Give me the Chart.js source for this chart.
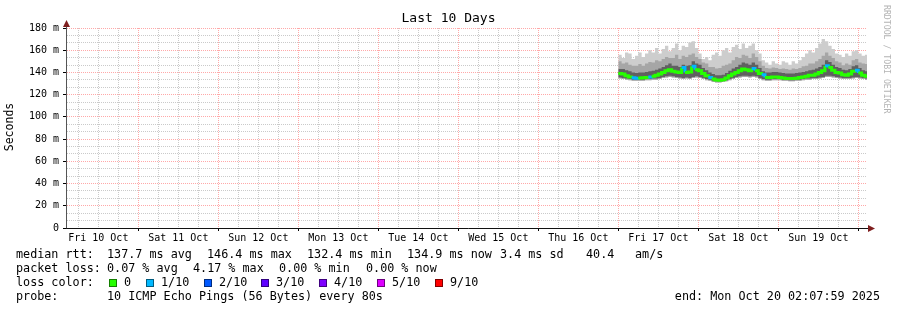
<!DOCTYPE html>
<html>
<head>
<meta charset="utf-8">
<script src="https://cdn.jsdelivr.net/npm/chart.js@4.4.1/dist/chart.umd.min.js"></script>
<style>
html, body { margin: 0; padding: 0; background: #fff; }
</style>
</head>
<body>
<canvas id="chart" width="897" height="310"></canvas>
<script>
// day labels along the time axis (placed at noon of each day)
const dayLabels = ['Fri 10 Oct', 'Sat 11 Oct', 'Sun 12 Oct', 'Mon 13 Oct', 'Tue 14 Oct',
                   'Wed 15 Oct', 'Thu 16 Oct', 'Fri 17 Oct', 'Sat 18 Oct', 'Sun 19 Oct'];
// y ticks in ms
const yTicks = [0, 20, 40, 60, 80, 100, 120, 140, 160, 180];

// hourly samples starting Fri 17 Oct 00:00 (hour 168 counted from Fri 10 Oct 00:00)
const firstHour = 168;
const medianMs = [139, 138.5, 137, 136, 135.2, 134.8, 135, 135.2, 135.5, 136,
                  136.5, 137.5, 138.5, 140, 141.5, 142.5, 141, 140.5, 140, 144.5,
                  140, 140.5, 145.5, 142.5, 141.5, 139, 137, 135.5, 134, 133.2,
                  133, 133.5, 135, 137, 138.5, 140, 141.5, 143, 142.5, 141.5,
                  143.5, 141.5, 139, 138, 135.5, 135.5, 136, 136, 135.5, 135,
                  134.5, 134.5, 134.5, 134.8, 135.5, 136, 136.5, 137.5, 137.5, 138.5,
                  140, 141.5, 146, 144.5, 142, 140, 139.5, 138, 137.5, 138.5,
                  141, 142, 139.5, 137.5, 136.5, 135];
const lossCount = [0, 0, 0, 0, 1, 1, 0, 0, 0, 1,
                   0, 0, 0, 0, 0, 0, 0, 0, 0, 1,
                   0, 0, 1, 0, 0, 0, 0, 1, 0, 0,
                   0, 0, 0, 0, 0, 0, 0, 0, 0, 0,
                   1, 0, 0, 1, 0, 0, 0, 0, 0, 0,
                   0, 0, 0, 0, 0, 0, 0, 0, 0, 0,
                   0, 0, 1, 0, 0, 0, 0, 0, 0, 0,
                   0, 1, 0, 0, 0, 0];
// smoke: lowest ping, lower inner edge, upper inner edge, upper middle edge, highest ping
const minMs = [134.5, 134, 133.5, 133, 132.5, 132.5, 132.5, 132.5, 133, 133,
               133.5, 133.5, 134, 135, 135.5, 136, 135.5, 135, 134.5, 134,
               134.5, 134, 135, 135.5, 135, 134, 133, 132.5, 131.5, 131,
               131, 131.5, 132, 133, 134, 135, 135.5, 136, 136, 135.5,
               136, 135.5, 134, 133, 132.5, 132.5, 133, 133, 133, 132.5,
               132.5, 132, 132, 132.5, 132.5, 133, 133.5, 133.5, 134, 134,
               134.5, 135, 136, 136, 135.5, 135, 134.5, 134, 134, 134,
               134.5, 135, 134.5, 134, 133.5, 133.5];
const lowMs = [135.5, 135, 134.5, 134, 133.5, 133.5, 133.5, 133.5, 134, 134,
               134.5, 134.5, 135, 136, 136.5, 137, 136.5, 136, 135.5, 135,
               135.5, 135, 136, 136.5, 136, 135, 134, 133.5, 132.5, 132,
               132, 132.5, 133, 134, 135, 136, 136.5, 137, 137, 136.5,
               137, 136.5, 135, 134, 133.5, 133.5, 134, 134, 134, 133.5,
               133.5, 133, 133, 133.5, 133.5, 134, 134.5, 134.5, 135, 135,
               135.5, 136, 137, 137, 136.5, 136, 135.5, 135, 135, 135,
               135.5, 136, 135.5, 135, 134.5, 134];
const innerMs = [143, 143, 142, 141, 140, 139.5, 140, 140, 140.5, 141,
                 141.5, 142.5, 143.5, 145, 146.5, 148, 146, 146, 145, 147,
                 146, 146.5, 150, 148, 147, 144, 142, 140, 138.5, 137.5,
                 137.5, 138, 139.5, 141.5, 143.5, 145, 147, 149, 148, 147,
                 149, 147, 144, 141, 140, 140, 140.5, 140.5, 140, 139.5,
                 139, 139, 139, 139.5, 140, 140.5, 141, 142, 142.5, 143.5,
                 145, 147, 151, 149.5, 147, 145, 144, 142.5, 142, 143,
                 145.5, 146.5, 144, 142, 141, 140];
const outerMs = [150, 148, 149, 147, 146, 146, 147.5, 146, 148, 149.5,
                 149, 151, 150, 152, 154, 153, 153, 156, 152, 155,
                 154, 156, 157, 154, 152, 149, 148, 145, 145, 143.5,
                 144, 146, 147, 148, 151, 154, 153, 156, 155, 153,
                 157, 154, 150, 146, 144, 143.5, 144.5, 144, 143, 143.5,
                 143, 142.5, 143.5, 143, 144, 145.5, 146, 148, 148, 150,
                 152, 155, 158, 155, 153, 150, 149, 146.5, 148, 147,
                 151, 152, 149, 148, 147.5, 146];
const maxMs = [156, 153, 158, 157, 152, 155, 158, 154, 157, 160,
               158, 162, 157, 161, 164, 159, 162, 166, 160, 164,
               163, 167, 168, 162, 157, 152, 154, 151, 156, 158,
               155, 160, 162, 158, 163, 165, 161, 166, 162, 164,
               166, 160, 157, 151, 149, 147, 150, 148, 147, 150,
               149, 147, 150, 148, 151, 154, 157, 160, 158, 162,
               166, 170, 168, 164, 161, 157, 156, 154, 157, 155,
               159, 160, 157, 155, 156, 154];

const lossLabels = ['0', '1/10', '2/10', '3/10', '4/10', '5/10', '9/10'];
const lossColors = ['#26ff00', '#00b8ff', '#0059ff', '#5e00ff', '#7e00ff', '#dd00ff', '#ff0000'];

const MONO = '"DejaVu Sans Mono", monospace';
const MAJOR = 'rgba(255, 110, 110, 0.6)';
const MINOR = 'rgba(150, 150, 150, 0.5)';
const CLEAR = 'rgba(0,0,0,0)';
const xStart = 2.61; // graph starts ~02:37 Fri 10 Oct
const xEnd = xStart + 240;

const pts = arr => arr.map((v, i) => ({ x: firstHour + i, y: v }));

const edge = arr => ({
    data: pts(arr),
    stepped: true,
    borderColor: CLEAR,
    borderWidth: 0,
    pointRadius: 0,
    fill: false
});
const band = (arr, target, color) => Object.assign(edge(arr), { fill: target, backgroundColor: color });

const frame = {
    id: 'frame',
    afterDraw(chart) {
        const { ctx, chartArea: a } = chart;
        const ax = a.left - 0.5, ay = a.bottom + 0.5;
        ctx.save();
        // axes
        ctx.lineWidth = 1;
        ctx.strokeStyle = '#555';
        ctx.beginPath(); ctx.moveTo(ax, ay); ctx.lineTo(ax, 24); ctx.stroke();
        ctx.strokeStyle = '#111';
        ctx.beginPath(); ctx.moveTo(ax, ay); ctx.lineTo(870, ay); ctx.stroke();
        // arrows
        ctx.fillStyle = '#7f1f1f';
        ctx.beginPath(); ctx.moveTo(ax - 3.5, 27); ctx.lineTo(ax + 3.5, 27); ctx.lineTo(ax, 20); ctx.closePath(); ctx.fill();
        ctx.beginPath(); ctx.moveTo(868, ay - 3.5); ctx.lineTo(868, ay + 3.5); ctx.lineTo(875, ay); ctx.closePath(); ctx.fill();

        // y axis title
        ctx.fillStyle = '#000';
        ctx.font = '11.5px ' + MONO;
        ctx.textAlign = 'center';
        ctx.textBaseline = 'middle';
        ctx.save();
        ctx.translate(10, 127);
        ctx.rotate(-Math.PI / 2);
        ctx.fillText('Seconds', 0, 0);
        ctx.restore();

        // watermark
        ctx.save();
        ctx.fillStyle = '#b4b4b4';
        ctx.font = '8.2px ' + MONO;
        ctx.textAlign = 'left';
        ctx.translate(886, 5);
        ctx.rotate(Math.PI / 2);
        ctx.fillText('RRDTOOL / TOBI OETIKER', 0, 0);
        ctx.restore();

        // legend lines
        ctx.font = '11.75px ' + MONO;
        ctx.textAlign = 'left';
        const rows = [
            [255, [[16, 'median rtt:'], [107, '137.7 ms avg'], [207, '146.4 ms max'], [307, '132.4 ms min'],
                   [407, '134.9 ms now'], [500, '3.4 ms sd'], [586, '40.4'], [635, 'am/s']]],
            [269, [[16, 'packet loss:'], [107, '0.07 % avg'], [193, '4.17 % max'], [279, '0.00 % min'], [366, '0.00 % now']]],
            [283, [[16, 'loss color:']]],
            [297, [[16, 'probe:'], [107, '10 ICMP Echo Pings (56 Bytes) every 80s']]]
        ];
        rows.forEach(([y, items]) => items.forEach(([x, t]) => ctx.fillText(t, x, y)));
        const swatchX = [109, 146, 204, 261, 319, 377, 435];
        lossLabels.forEach((lbl, i) => {
            const sx = swatchX[i];
            ctx.fillStyle = lossColors[i];
            ctx.fillRect(sx, 279, 8, 8);
            ctx.strokeStyle = 'rgba(0,0,0,0.5)';
            ctx.strokeRect(sx + 0.5, 279.5, 7, 7);
            ctx.fillStyle = '#000';
            ctx.fillText(lbl, sx + 15, 283);
        });
        ctx.textAlign = 'right';
        ctx.fillText('end: Mon Oct 20 02:07:59 2025', 880, 297);
        ctx.restore();
    }
};

new Chart(document.getElementById('chart'), {
    type: 'line',
    data: {
        datasets: [
            {
                label: 'median',
                data: pts(medianMs),
                stepped: true,
                borderWidth: 3,
                borderColor: lossColors[0],
                segment: { borderColor: c => lossColors[lossCount[c.p0DataIndex]] },
                pointRadius: 0,
                fill: false
            },
            edge(minMs),                  // 1
            edge(lowMs),                  // 2
            band(innerMs, 2, '#606060'),  // 3: darkest, around the median
            band(outerMs, 1, '#a6a6a6'),  // 4
            band(maxMs, 1, '#cdcdcd')     // 5: full spread
        ]
    },
    options: {
        responsive: false,
        animation: false,
        layout: { padding: 0 },
        plugins: {
            legend: { display: false },
            tooltip: { enabled: false },
            title: {
                display: true,
                text: 'Last 10 Days',
                color: '#000',
                font: { family: MONO, size: 13, weight: 'normal', lineHeight: 1.2 },
                padding: { top: 11, bottom: 1.4 }
            }
        },
        scales: {
            x: {
                type: 'linear',
                min: xStart,
                max: xEnd,
                afterFit: s => { s.height = 82; },
                afterBuildTicks: s => {
                    const t = [];
                    for (let h = Math.ceil(xStart / 6) * 6; h <= xEnd; h += 6) t.push({ value: h });
                    s.ticks = t;
                },
                ticks: {
                    autoSkip: false,
                    maxRotation: 0,
                    padding: 1,
                    color: '#000',
                    font: { family: MONO, size: 10 },
                    callback: v => (v % 24 === 12 ? dayLabels[(v - 12) / 24] : '')
                },
                grid: {
                    color: c => (c.tick && c.tick.value % 24 === 0 ? MAJOR : MINOR),
                    tickColor: c => (c.tick && c.tick.value % 24 === 0 ? '#000' : CLEAR),
                    tickLength: 3,
                    lineWidth: 1
                },
                border: { display: false, dash: [1, 1] }
            },
            y: {
                min: 0,
                max: 180,
                afterFit: s => { s.width = 67; },
                afterBuildTicks: s => {
                    const t = [];
                    for (let i = 0; i < yTicks.length - 1; i++) {
                        const step = (yTicks[i + 1] - yTicks[i]) / 3;
                        t.push({ value: yTicks[i] }, { value: yTicks[i] + step }, { value: yTicks[i] + 2 * step });
                    }
                    t.push({ value: yTicks[yTicks.length - 1] });
                    s.ticks = t;
                },
                ticks: {
                    autoSkip: false,
                    padding: 4,
                    color: '#000',
                    font: { family: MONO, size: 10 },
                    callback: (v, i) => (i % 3 ? '' : (v === 0 ? '0' : Math.round(v) + ' m'))
                },
                grid: {
                    color: c => (c.index % 3 === 0 ? MAJOR : MINOR),
                    tickColor: c => (c.index % 3 === 0 ? '#000' : CLEAR),
                    tickLength: 4,
                    lineWidth: 1
                },
                border: { display: false, dash: [1, 1] }
            },
            // empty right margin so the title centres on the full canvas
            pad: {
                position: 'right',
                min: 0,
                max: 1,
                afterFit: s => { s.width = 30; },
                ticks: { display: false },
                grid: { display: false, drawTicks: false },
                border: { display: false }
            }
        }
    },
    plugins: [frame]
});
</script>
</body>
</html>
